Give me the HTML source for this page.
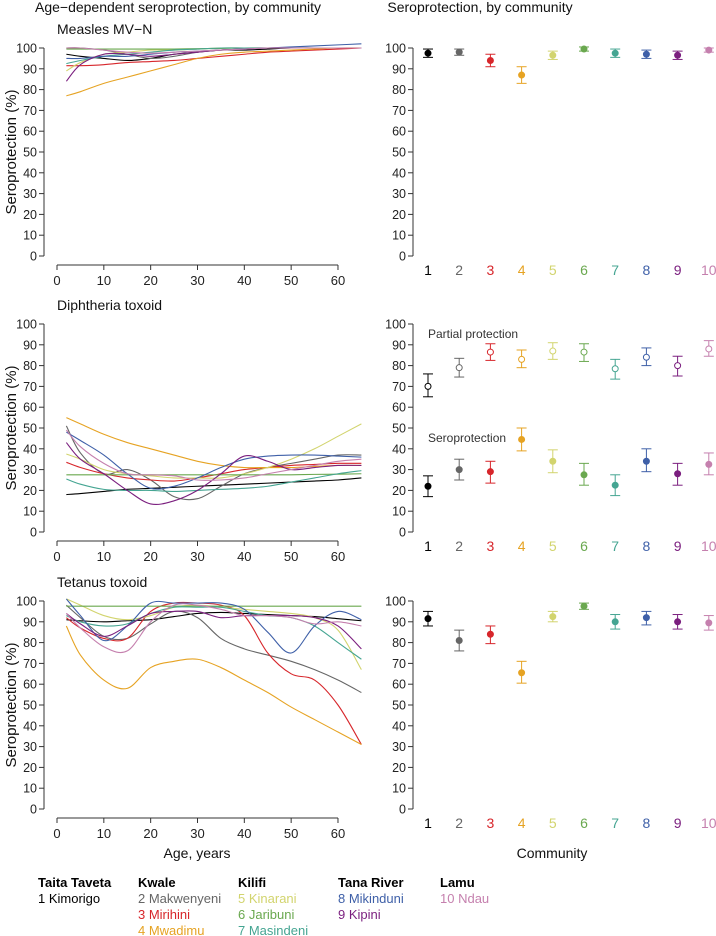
<!DOCTYPE html>
<html><head><meta charset="utf-8"><style>
body{margin:0;background:#fff;}
svg{display:block;font-family:"Liberation Sans",sans-serif;}
</style></head><body>
<svg id="c" width="716" height="936" viewBox="0 0 716 936"></svg>
<script>
const ages=[2,5,10,15,20,25,30,35,40,45,50,55,60,65];
const communities=["1","2","3","4","5","6","7","8","9","10"];
const colors=["#000000","#666666","#d7262b","#e6a323","#d2d46e","#6aa84f","#45a592","#3f60a8","#7b1f7f","#c580ae"];
const measlesCurves=[
[97,96,95,94,95,97,98,99,99,99.5,100,100,100,100],
[100,100,99,97,95,96,98,99,99.5,100,100,100,100,100],
[91.5,91.5,92,93,93.5,94,95,96,97,98,98.5,99,99.5,100],
[77,79,83,86,89,92,95,97,98,98.5,99,99.5,100,100],
[89,93,97,98,99,99,99.5,100,100,100,100,100,100,100],
[99.5,99.5,99.5,99.5,99.5,99.5,99.7,99.8,100,100,100,100,100,100],
[92.5,94,96,97,98,99,99.5,100,100,100,100,100,100,100],
[95,95,96,96,97,98,98.5,99,99.5,100,100.5,101,101.5,102],
[84,92,97,97,96,97,98,99,99.5,100,100,100,100,100],
[100,100,99,98,97.5,98,98.5,99,99.5,100,100,100,100,100]];
const diphCurves=[
[18,18.5,19.5,20.5,21,21.5,22,22.5,23,23.5,24,24.5,25,26],
[51,38,28,30,25,17,16,22,28,31,33,35,37,37],
[33.5,31,28,26,25,24.5,26,28,30,31,32,32.5,33,33],
[55,52,47,43,40,37,34,32,31,31,31,31.5,32,32],
[37.5,35,30,28,27,26,26,26,28,31,35,40,46,52],
[27.5,27.5,27.5,27.5,27.5,27.5,27.5,27.5,27.5,27.5,27.5,27.7,27.8,28],
[25.5,23,20.5,20,20,19.5,20,20.5,21,22,24,26,28,29.5],
[48,44,37,28,21,22,26,31,35,36.5,37,37,36.5,36],
[43,35,28,20,13.5,15,20,28,36.5,34,30,31,32,32],
[49,41,33,28,27.5,27,25,25,26,28,30,32,34,35]];
const tetCurves=[
[91,90.5,90,90.5,91,92.5,94,94.5,94,93.5,93,92.5,91.5,90.5],
[98,92,83,82,89,95,92,82,77,74,71,67,62,56],
[92,87,82,82,95,99,99,98,93,75,65,62,50,31],
[88,74,62,58,68,71,72,68,62,56,49,43,37,31],
[101,98,93,91,93,97,98,97,96,95,94,92,86,67],
[97.5,97.5,97.5,97.5,97.5,97.5,97.5,97.5,97.5,97.5,97.5,97.5,97.5,97.5],
[93,90,88,89,94,97,97,97,95,93,92,88,80,72],
[101,93,81,88,99,99,99,99,96,85,75,88,95,91],
[94,89,83,88,94,95,95,92,93,93,93,92,88,77],
[94,87,78,76,90,98,98,96,93,93,92,89,90,88]];
const measlesEst=[97.5,98,94,87,96.5,99.5,97.5,97,96.5,99];
const measlesLo=[95.5,96.5,91,83,94.5,98.5,95.5,95,94.5,98];
const measlesHi=[99.5,99.5,97,91,98.5,100.5,99.5,99,98.5,100];
const diphPartEst=[70,79,86.5,83,87,86.5,78.5,84,80,88];
const diphPartLo=[65,74.5,82.5,79,83,82,73.5,80,75,84.5];
const diphPartHi=[76,83.5,90.5,87.5,91,90.5,83,88.5,84.5,92];
const diphSeroEst=[22,30,29,44.5,34,27.5,22.5,34,28,32.5];
const diphSeroLo=[17,25,23.5,39,28.5,22.5,17.5,29,22.5,27.5];
const diphSeroHi=[27,35,34,50,39.5,33,27.5,40,33,38];
const tetEst=[91.5,81,84,65.5,92.5,97.5,90,92,90,89.5];
const tetLo=[88,76,79.5,60.5,90,96,86.5,88.5,86.5,86];
const tetHi=[95,86,88,71,95,99,93.5,95,93.5,93];
const yTicks=[0,10,20,30,40,50,60,70,80,90,100];
const xTicks=[0,10,20,30,40,50,60];

const svg=document.getElementById('c');
const NS='http://www.w3.org/2000/svg';
function el(t,a,p){const e=document.createElementNS(NS,t);for(const k in a)e.setAttribute(k,a[k]);(p||svg).appendChild(e);return e;}
function txt(s,a,p){const e=el('text',a,p);e.textContent=s;return e;}
const xAge=a=>57+a*4.683;
const xCat=i=>428+i*31.2;
function yS(y0){return v=>y0-v*2.08;}

function yAxis(g,ax,y){
  el('line',{x1:ax,x2:ax,y1:y(0),y2:y(100),stroke:'#333','stroke-width':1},g);
  yTicks.forEach(t=>{el('line',{x1:ax-5,x2:ax,y1:y(t),y2:y(t),stroke:'#333'},g);
    txt(String(t),{x:ax-7,y:y(t)+4.5,'text-anchor':'end','font-size':12.5,fill:'#222'},g);});
}
function leftPanel(name,title,curves,y0){
  const g=el('g',{});
  
  
  const y=yS(y0);
  txt(title,{x:57,y:y0-222,'font-size':14,fill:'#111'},g);
  yAxis(g,44,y);
  const ax=y0+9;
  el('line',{x1:xAge(0),x2:xAge(60),y1:ax,y2:ax,stroke:'#333'},g);
  xTicks.forEach(t=>{el('line',{x1:xAge(t),x2:xAge(t),y1:ax,y2:ax+5,stroke:'#333'},g);
    txt(String(t),{x:xAge(t),y:ax+20,'text-anchor':'middle','font-size':13,fill:'#222'},g);});
  txt('Seroprotection (%)',{x:0,y:0,'font-size':15,'text-anchor':'middle',fill:'#111',transform:`translate(16,${y(50)}) rotate(-90)`},g);
  curves.forEach((c,i)=>{
    const pts=ages.map((a,j)=>[xAge(a),y(c[j])]);
    let d=`M${pts[0][0]},${pts[0][1]}`;
    for(let j=0;j<pts.length-1;j++){
      const p0=pts[Math.max(0,j-1)],p1=pts[j],p2=pts[j+1],p3=pts[Math.min(pts.length-1,j+2)];
      d+=` C${p1[0]+(p2[0]-p0[0])/6},${p1[1]+(p2[1]-p0[1])/6} ${p2[0]-(p3[0]-p1[0])/6},${p2[1]-(p3[1]-p1[1])/6} ${p2[0]},${p2[1]}`;
    }
    const p=el('path',{d:d,fill:'none',stroke:colors[i],'stroke-width':1.1},g);
    
    
  });
}
function points(g,y,est,lo,hi,open){
  est.forEach((v,i)=>{
    const x=xCat(i);
    el('line',{x1:x,x2:x,y1:y(lo[i]),y2:y(hi[i]),stroke:colors[i]},g);
    el('line',{x1:x-5,x2:x+5,y1:y(lo[i]),y2:y(lo[i]),stroke:colors[i]},g);
    el('line',{x1:x-5,x2:x+5,y1:y(hi[i]),y2:y(hi[i]),stroke:colors[i]},g);
    const c=el('circle',{cx:x,cy:y(v),r:3,fill:open?'#fff':colors[i],stroke:colors[i],'stroke-width':1},g);
    
    
  });
}
function rightPanel(name,y0,sets){
  const g=el('g',{});
  
  
  const y=yS(y0);
  yAxis(g,413,y);
  communities.forEach((c,i)=>txt(c,{x:xCat(i),y:y0+19,'text-anchor':'middle','font-size':14,fill:colors[i]},g));
  sets.forEach(s=>points(g,y,s[0],s[1],s[2],s[3]));
}
txt('Age\u2212dependent seroprotection, by community',{x:178,y:12,'text-anchor':'middle','font-size':14,fill:'#111'});
txt('Seroprotection, by community',{x:480,y:12,'text-anchor':'middle','font-size':14,fill:'#111'});
leftPanel('measles-age-panel','Measles MV\u2212N',measlesCurves,256);
leftPanel('diphtheria-age-panel','Diphtheria toxoid',diphCurves,532);
leftPanel('tetanus-age-panel','Tetanus toxoid',tetCurves,809);
rightPanel('measles-community-panel',256,[[measlesEst,measlesLo,measlesHi,false]]);
rightPanel('diphtheria-community-panel',532,[[diphPartEst,diphPartLo,diphPartHi,true],[diphSeroEst,diphSeroLo,diphSeroHi,false]]);
rightPanel('tetanus-community-panel',809,[[tetEst,tetLo,tetHi,false]]);
txt('Partial protection',{x:428,y:338,'font-size':12,fill:'#333'});
txt('Seroprotection',{x:428,y:442,'font-size':12,fill:'#333'});
txt('Age, years',{x:197,y:858,'text-anchor':'middle','font-size':14,fill:'#111'});
txt('Community',{x:552,y:858,'text-anchor':'middle','font-size':14,fill:'#111'});
const legend=[[38,'Taita Taveta',[0]],[138,'Kwale',[1,2,3]],[238,'Kilifi',[4,5,6]],[338,'Tana River',[7,8]],[440,'Lamu',[9]]];
const names=["Kimorigo","Makwenyeni","Mirihini","Mwadimu","Kinarani","Jaribuni","Masindeni","Mikinduni","Kipini","Ndau"];
legend.forEach(L=>{
  const h=txt(L[1],{x:L[0],y:887,'font-size':13,'font-weight':'bold',fill:'#000'});
  
  L[2].forEach((i,k)=>{
    const t=txt(communities[i]+' '+names[i],{x:L[0],y:903+k*16,'font-size':13,fill:colors[i]});
    
    
  });
});
</script>
</body></html>
